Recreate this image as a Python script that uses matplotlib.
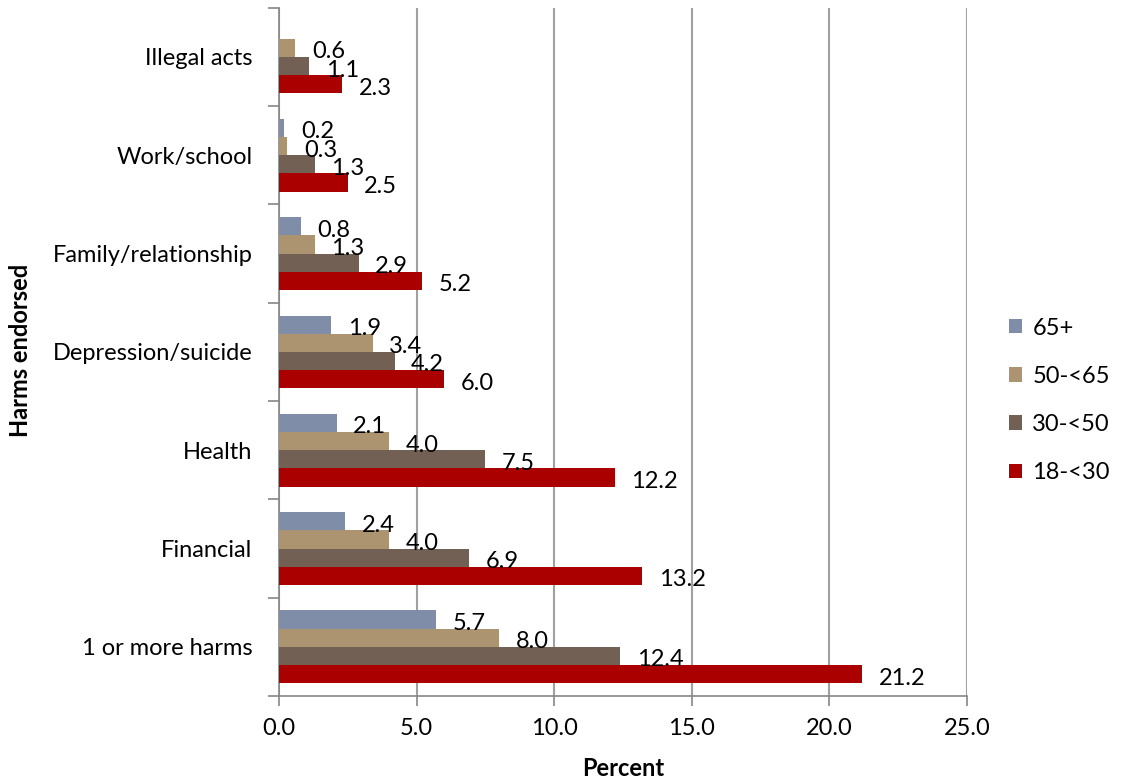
import matplotlib.pyplot as plt
import numpy as np

# ------------------ Datos ------------------
categories = ["1 or more harms", "Financial", "Health", "Depression/suicide",
              "Family/relationship", "Work/school", "Illegal acts"]
groups = ["65+", "50-<65", "30-<50", "18-<30"]
v_65 = [5.7, 2.4, 2.1, 1.9, 0.8, 0.2, np.nan]
v_50 = [8.0, 4.0, 4.0, 3.4, 1.3, 0.3, 0.6]
v_30 = [12.4, 6.9, 7.5, 4.2, 2.9, 1.3, 1.1]
v_18 = [21.2, 13.2, 12.2, 6.0, 5.2, 2.5, 2.3]
xticks = [0, 5, 10, 15, 20, 25]

colors = ["#7F8DA9", "#AC9470", "#726054", "#AA0000"]
series = [v_65, v_50, v_30, v_18]

plt.rcParams["font.family"] = ["Lato", "DejaVu Sans"]
FS = 17

fig = plt.figure(figsize=(11.35, 7.82), dpi=100)
ax = fig.add_axes([0.2458, 0.110, 0.6062, 0.880])

y = np.arange(len(categories))
h = 0.185
# offsets: 65+ arriba, 18-<30 abajo
offsets = [1.5 * h, 0.5 * h, -0.5 * h, -1.5 * h]

for vals, col, off, name in zip(series, colors, offsets, groups):
    vals = np.array(vals, dtype=float)
    ax.barh(y + off, np.nan_to_num(vals), height=h, color=col, label=name, zorder=3)
    for yi, v in zip(y, vals):
        if np.isnan(v):
            continue
        ax.text(v + 0.6, yi + off - 0.04, f"{v:.1f}", va="center", ha="left",
                fontsize=FS, color="black", zorder=4)

ax.set_xlim(0, 25)
ax.set_ylim(-0.5, len(categories) - 0.5)
ax.set_xticks(xticks)
ax.set_xticklabels([f"{t:.1f}" for t in xticks], fontsize=FS)
ax.set_yticks(y)
ax.set_yticklabels(categories, fontsize=FS)
ax.tick_params(axis="y", length=0, pad=19)
ax.set_yticks(np.arange(-0.5, len(categories), 1), minor=True)
ax.tick_params(axis="y", which="minor", length=8, color="#868686", width=1.2)
ax.tick_params(axis="x", length=7, color="#868686", width=1.2, pad=9)

ax.grid(True, axis="x", color="#A0A0A0", linewidth=1.5, zorder=0)
for s in ["top", "right"]:
    ax.spines[s].set_visible(False)
ax.spines["left"].set_color("#868686")
ax.spines["bottom"].set_color("#868686")
ax.spines["left"].set_linewidth(1.2)
ax.spines["bottom"].set_linewidth(1.2)

# titulos de ejes
fig.text(623 / 1135, 1 - 769 / 782, "Percent", fontsize=FS, fontweight="bold",
         ha="center", va="center")
fig.text(20 / 1135, 0.5 + 0.052, "Harms endorsed", fontsize=FS, fontweight="bold",
         ha="center", va="center", rotation=90)

handles, labels = ax.get_legend_handles_labels()
fig.legend(handles, labels, loc="center left", bbox_to_anchor=(0.870, 0.488),
           frameon=False, fontsize=FS, handlelength=0.55, handleheight=0.55,
           labelspacing=1.15, handletextpad=0.45)

fig.savefig("out.png", dpi=100)
